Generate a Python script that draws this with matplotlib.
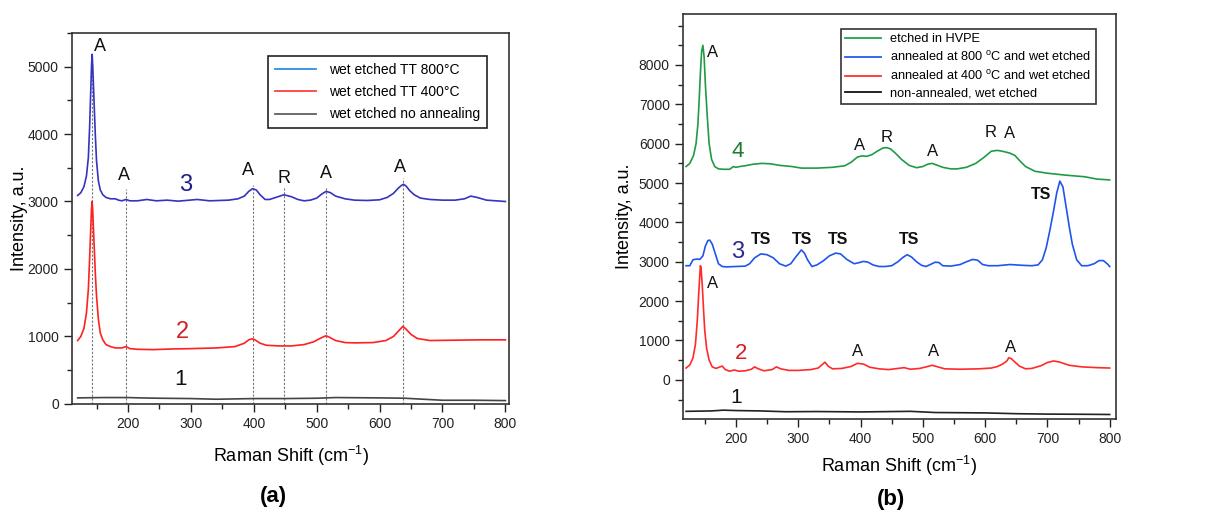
import numpy as np
import matplotlib
matplotlib.use("Agg")
import matplotlib.pyplot as plt
from matplotlib.lines import Line2D
from matplotlib.ticker import MultipleLocator, FixedLocator

plt.rcParams['font.family'] = ['Liberation Sans', 'DejaVu Sans']
plt.rcParams['mathtext.fontset'] = 'custom'
plt.rcParams['mathtext.rm'] = 'Liberation Sans'
plt.rcParams['mathtext.it'] = 'Liberation Sans:italic'

# ---- panel (a) spectra ----
a_x3 = [120, 125, 130, 134, 137, 139, 141, 142, 143, 144, 146, 148, 150, 153, 156, 160, 165, 172, 180, 185,
        190, 197, 203, 215, 230, 245, 262, 280, 310, 330, 360, 375, 385, 392, 398, 404, 410, 418, 425, 435,
        448, 460, 470, 480, 490, 500, 508, 515, 522, 530, 545, 560, 580, 600, 612, 622, 630, 635, 638, 642,
        648, 655, 665, 680, 700, 720, 735, 745, 755, 770, 800]
a_y3 = [3090, 3130, 3220, 3380, 3650, 4100, 4700, 5000, 5180, 5000, 4500, 4000, 3600, 3300, 3170, 3100, 3060, 3040, 3040, 3020,
        3010, 3030, 3010, 3010, 3030, 3010, 3020, 3005, 3030, 3010, 3020, 3040, 3080, 3150, 3190, 3170, 3100, 3030, 3030, 3060,
        3100, 3070, 3030, 3010, 3020, 3050, 3110, 3150, 3130, 3080, 3040, 3020, 3015, 3025, 3060, 3120, 3200, 3240, 3255, 3230,
        3160, 3100, 3050, 3030, 3020, 3020, 3040, 3080, 3060, 3020, 3000]

a_x2 = [120, 125, 130, 134, 137, 139, 141, 142, 143, 144, 146, 148, 150, 153, 156, 160, 165, 172, 180, 190,
        197, 203, 215, 240, 270, 300, 340, 370, 385, 392, 397, 402, 410, 420, 440, 460, 480, 495, 505, 512,
        515, 520, 530, 545, 560, 590, 610, 622, 630, 635, 637, 642, 650, 660, 680, 720, 760, 800]
a_y2 = [940, 1000, 1120, 1350, 1700, 2150, 2650, 2880, 3000, 2850, 2400, 1950, 1600, 1250, 1050, 950, 880, 850, 830, 830,
        850, 820, 810, 805, 815, 820, 830, 850, 900, 950, 965, 950, 900, 870, 860, 860, 880, 920, 970, 1000,
        1010, 990, 940, 910, 905, 910, 940, 1000, 1080, 1130, 1150, 1110, 1030, 970, 940, 945, 950, 950]

a_x1 = [120, 160, 200, 220, 250, 300, 340, 370, 400, 450, 500, 530, 600, 640, 660, 700, 750, 800]
a_y1 = [90, 95, 95, 90, 85, 80, 70, 75, 80, 80, 85, 95, 90, 85, 75, 55, 55, 50]

a_marks_x = [143, 197, 398, 448, 515, 638]
a_marks_top = [5150, 3180, 3250, 3220, 3220, 3350]
a_peak_labels = ['A', 'A', 'A', 'R', 'A', 'A']
a_peak_lx = [155, 194, 391, 448, 514, 633]
a_peak_ly = [5300, 3380, 3460, 3340, 3420, 3500]
a_legend = ['wet etched TT 800°C', 'wet etched TT 400°C', 'wet etched no annealing']

# ---- panel (b) spectra ----
b_x4 = [120, 126, 132, 136, 139, 141, 143, 145, 147, 149, 151, 154, 157, 161, 166, 172, 180, 190, 196, 200,
        206, 215, 228, 242, 255, 270, 290, 305, 330, 355, 375, 385, 395, 402, 410, 418, 428, 436, 442, 448,
        456, 466, 478, 490, 500, 508, 515, 522, 532, 545, 555, 570, 585, 598, 610, 620, 630, 640, 648, 656,
        665, 680, 700, 730, 760, 780, 800]
b_y4 = [5420, 5500, 5700, 6000, 6500, 7100, 7800, 8350, 8500, 8200, 7500, 6700, 6000, 5600, 5420, 5360, 5350, 5350, 5420, 5400,
        5420, 5440, 5480, 5500, 5490, 5450, 5420, 5380, 5380, 5400, 5440, 5530, 5660, 5690, 5680, 5720, 5820, 5890, 5900, 5870,
        5760, 5600, 5450, 5390, 5420, 5480, 5500, 5460, 5400, 5360, 5360, 5400, 5500, 5650, 5810, 5830, 5800, 5760, 5700, 5560,
        5420, 5300, 5250, 5200, 5160, 5100, 5080]

b_x3 = [120, 126, 131, 137, 142, 147, 151, 155, 158, 162, 167, 172, 178, 185, 200, 215, 222, 230, 240, 250,
        260, 270, 280, 288, 295, 300, 305, 310, 315, 322, 330, 340, 350, 360, 368, 378, 390, 398, 405, 412,
        420, 430, 440, 450, 460, 468, 475, 482, 490, 498, 505, 512, 520, 526, 532, 545, 560, 570, 580, 588,
        596, 605, 620, 640, 660, 675, 685, 692, 698, 704, 710, 715, 720, 725, 730, 735, 740, 747, 755, 765,
        775, 783, 790, 796, 800]
b_y3 = [2900, 2900, 3050, 3070, 3060, 3150, 3400, 3540, 3550, 3450, 3200, 2950, 2880, 2870, 2880, 2890, 2950, 3100, 3200, 3180,
        3100, 2950, 2890, 2950, 3100, 3200, 3300, 3220, 3050, 2880, 2920, 3020, 3150, 3220, 3200, 3060, 2950, 2980, 3010, 2990,
        2920, 2880, 2880, 2900, 3000, 3110, 3180, 3120, 3000, 2910, 2880, 2930, 2990, 2980, 2900, 2890, 2930, 3000, 3060, 3040,
        2930, 2900, 2900, 2930, 2910, 2900, 2920, 3050, 3350, 3800, 4300, 4750, 5050, 4900, 4400, 3900, 3450, 3050, 2900, 2900,
        2950, 3030, 3030, 2950, 2880]

b_x2 = [120, 126, 131, 135, 138, 140, 142, 143, 144, 146, 148, 150, 153, 157, 162, 168, 173, 178, 183, 190,
        197, 205, 215, 225, 230, 236, 245, 258, 265, 272, 285, 300, 320, 332, 338, 343, 348, 355, 370, 385,
        395, 405, 415, 430, 445, 460, 470, 480, 495, 508, 515, 522, 535, 560, 590, 610, 620, 628, 635, 638,
        642, 648, 655, 665, 675, 690, 700, 710, 720, 735, 755, 780, 800]
b_y2 = [300, 380, 550, 900, 1500, 2100, 2650, 2900, 2850, 2400, 1800, 1250, 800, 500, 330, 290, 320, 350, 260, 220,
        250, 220, 230, 270, 330, 280, 230, 260, 330, 280, 240, 240, 260, 300, 380, 450, 350, 280, 290, 340,
        420, 400, 320, 280, 260, 290, 310, 270, 290, 340, 370, 340, 280, 270, 280, 300, 340, 400, 480, 560,
        540, 450, 350, 280, 290, 360, 440, 480, 450, 370, 330, 310, 300]

b_x1 = [120, 160, 180, 200, 240, 280, 330, 400, 480, 520, 600, 650, 700, 760, 800]
b_y1 = [-800, -790, -770, -780, -790, -810, -805, -815, -800, -830, -840, -860, -870, -875, -880]

b_peak_labels = ['A', 'A', 'R', 'A', 'R', 'A', 'TS', 'TS', 'TS', 'TS', 'TS', 'A', 'A', 'A', 'A']
b_peak_lx = [163, 399, 442, 516, 609, 640, 690, 240, 306, 364, 478, 163, 396, 518, 641]
b_peak_ly = [8330, 5960, 6170, 5800, 6280, 6260, 4700, 3560, 3560, 3560, 3560, 2460, 720, 720, 810]
b_yticks = [0, 1000, 2000, 3000, 4000, 5000, 6000, 7000, 8000]
b_legend = ['etched in HVPE', 'annealed at 800 $^{\\rm o}$C and wet etched',
            'annealed at 400 $^{\\rm o}$C and wet etched', 'non-annealed, wet etched']

fig = plt.figure(figsize=(12.06, 5.12), dpi=100)


def style_axes(ax):
    ax.xaxis.set_major_locator(MultipleLocator(100))
    ax.xaxis.set_minor_locator(MultipleLocator(50))
    ax.yaxis.set_minor_locator(MultipleLocator(500))
    ax.tick_params(which='major', direction='out', length=6, width=1, labelsize=10, colors='#222222')
    ax.tick_params(which='minor', direction='out', length=3.5, width=1, colors='#222222')
    for s in ax.spines.values():
        s.set_linewidth(1.2)
        s.set_color('#333333')


# ---------- (a) ----------
ax = fig.add_axes([0.0597, 0.211, 0.3625, 0.725])
ax.vlines(a_marks_x, 0, a_marks_top, colors='#777777', linestyles=(0, (2, 1.5)), linewidth=0.8)
ax.plot(a_x1, a_y1, color='#444444', lw=1.2)
ax.plot(a_x2, a_y2, color='#ff2020', lw=1.2)
ax.plot(a_x3, a_y3, color='#3434c0', lw=1.2)
for t, x, y in zip(a_peak_labels, a_peak_lx, a_peak_ly):
    ax.text(x, y, t, fontsize=13, ha='center', va='center', color='#111111')
ax.text(292, 3240, '3', fontsize=17, ha='center', va='center', color='#1f1f8c')
ax.text(286, 1070, '2', fontsize=17, ha='center', va='center', color='#d42020')
ax.text(284, 360, '1', fontsize=16, ha='center', va='center', color='#111111')
ax.set_xlim(111, 806)
ax.set_ylim(0, 5500)
ax.yaxis.set_major_locator(MultipleLocator(1000))
style_axes(ax)
ax.set_xlabel('Raman Shift (cm$^{-1}$)', fontsize=13, labelpad=9)
ax.set_ylabel('Intensity, a.u.', fontsize=13, labelpad=0)
handles = [Line2D([], [], color=c, lw=1.3) for c in ['#2d8ee8', '#ff4040', '#606060']]
leg = ax.legend(handles, a_legend, loc='upper left', bbox_to_anchor=(0.449, 0.938), borderaxespad=0,
                fontsize=10, handlelength=2.9, handletextpad=1.0, labelspacing=0.6, fancybox=False,
                framealpha=1, edgecolor='#222222', borderpad=0.5)
leg.get_frame().set_linewidth(1.2)
fig.text(0.227, 0.03, '(a)', fontsize=16, fontweight='bold', ha='center', va='center')

# ---------- (b) ----------
bx = fig.add_axes([0.5663, 0.182, 0.359, 0.791])
bx.plot(b_x1, b_y1, color='#222222', lw=1.2)
bx.plot(b_x2, b_y2, color='#ff2a2a', lw=1.2)
bx.plot(b_x3, b_y3, color='#1f55ee', lw=1.2)
bx.plot(b_x4, b_y4, color='#1f9b46', lw=1.2)
for t, x, y in zip(b_peak_labels, b_peak_lx, b_peak_ly):
    bold = 'bold' if t == 'TS' else 'normal'
    bx.text(x, y, t, fontsize=12 if t != 'TS' else 11.5, fontweight=bold, ha='center', va='center',
            color='#111111')
bx.text(203, 5790, '4', fontsize=16, ha='center', va='center', color='#1e7a30')
bx.text(203, 3250, '3', fontsize=17, ha='center', va='center', color='#2a2a90')
bx.text(208, 680, '2', fontsize=16, ha='center', va='center', color='#d42020')
bx.text(200, -460, '1', fontsize=15, ha='center', va='center', color='#111111')
bx.set_xlim(115, 810)
bx.set_ylim(-990, 9300)
bx.yaxis.set_major_locator(FixedLocator(b_yticks))
style_axes(bx)
bx.set_xlabel('Raman Shift (cm$^{-1}$)', fontsize=13, labelpad=6)
bx.set_ylabel('Intensity, a.u.', fontsize=13, labelpad=4)
handles = [Line2D([], [], color=c, lw=1.3) for c in ['#1fa64b', '#2060ee', '#ff3030', '#111111']]
leg = bx.legend(handles, b_legend, loc='upper left', bbox_to_anchor=(0.365, 0.963), borderaxespad=0,
                fontsize=9.2, handlelength=2.8, handletextpad=0.7, labelspacing=0.38, fancybox=False,
                framealpha=1, edgecolor='#333333', borderpad=0.35)
leg.get_frame().set_linewidth(1.2)
fig.text(0.739, 0.025, '(b)', fontsize=16, fontweight='bold', ha='center', va='center')

fig.savefig('out.png', dpi=100)
